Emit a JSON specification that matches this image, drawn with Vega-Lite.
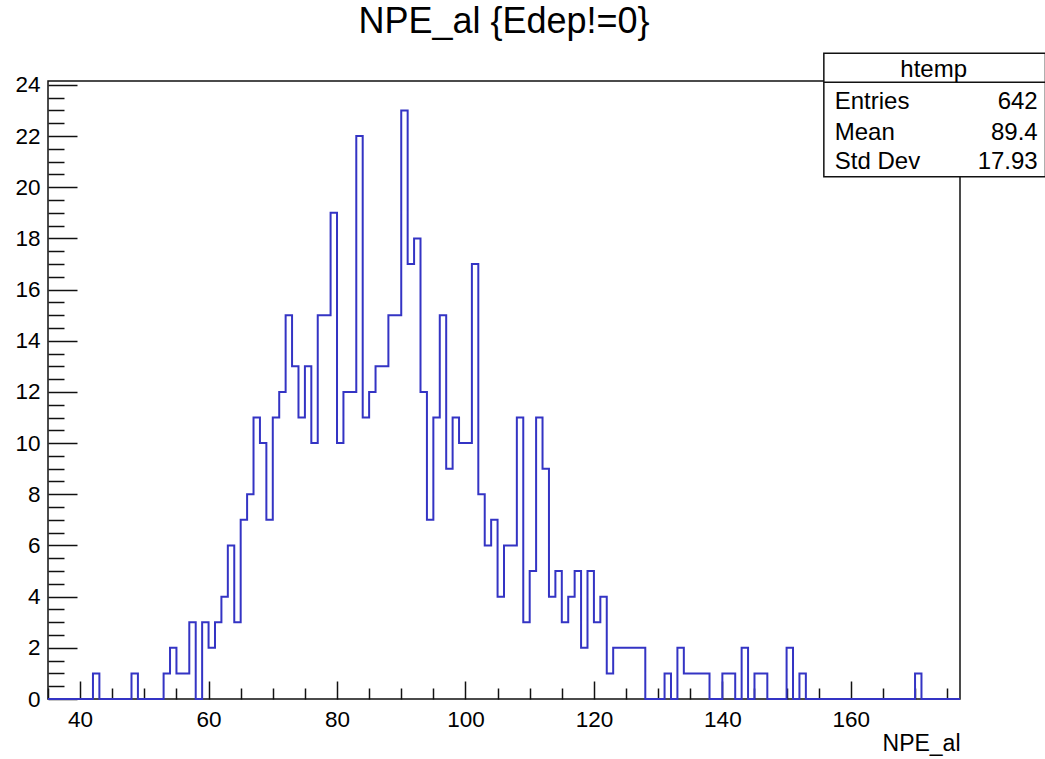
{
  "$schema": "https://vega.github.io/schema/vega-lite/v6.json",
  "width": 912,
  "height": 618,
  "autosize": {"type": "none"},
  "padding": {"left": 48, "top": 81, "right": 85, "bottom": 60},
  "background": "white",
  "title": {"text": "NPE_al {Edep!=0}", "font": "Liberation Sans", "fontSize": 36, "fontWeight": "normal", "color": "black", "anchor": "middle", "baseline": "alphabetic", "offset": -16},
  "config": {
    "view": {"stroke": "#111", "strokeWidth": 1.5},
    "font": "Liberation Sans",
    "axis": {"labelFont": "Liberation Sans", "labelFontSize": 22.5, "labelColor": "black", "tickColor": "#111", "tickWidth": 1.5, "grid": false, "domain": false, "titleFont": "Liberation Sans", "titleFontWeight": "normal", "titleColor": "black", "titleFontSize": 23}
  },
  "datasets": {
    "hist": [
      {"bin": 35, "count": 0}, {"bin": 36, "count": 0}, {"bin": 37, "count": 0}, {"bin": 38, "count": 0}, {"bin": 39, "count": 0},
      {"bin": 40, "count": 0}, {"bin": 41, "count": 0}, {"bin": 42, "count": 1}, {"bin": 43, "count": 0}, {"bin": 44, "count": 0},
      {"bin": 45, "count": 0}, {"bin": 46, "count": 0}, {"bin": 47, "count": 0}, {"bin": 48, "count": 1}, {"bin": 49, "count": 0},
      {"bin": 50, "count": 0}, {"bin": 51, "count": 0}, {"bin": 52, "count": 0}, {"bin": 53, "count": 1}, {"bin": 54, "count": 2},
      {"bin": 55, "count": 1}, {"bin": 56, "count": 1}, {"bin": 57, "count": 3}, {"bin": 58, "count": 0}, {"bin": 59, "count": 3},
      {"bin": 60, "count": 2}, {"bin": 61, "count": 3}, {"bin": 62, "count": 4}, {"bin": 63, "count": 6}, {"bin": 64, "count": 3},
      {"bin": 65, "count": 7}, {"bin": 66, "count": 8}, {"bin": 67, "count": 11}, {"bin": 68, "count": 10}, {"bin": 69, "count": 7},
      {"bin": 70, "count": 11}, {"bin": 71, "count": 12}, {"bin": 72, "count": 15}, {"bin": 73, "count": 13}, {"bin": 74, "count": 11},
      {"bin": 75, "count": 13}, {"bin": 76, "count": 10}, {"bin": 77, "count": 15}, {"bin": 78, "count": 15}, {"bin": 79, "count": 19},
      {"bin": 80, "count": 10}, {"bin": 81, "count": 12}, {"bin": 82, "count": 12}, {"bin": 83, "count": 22}, {"bin": 84, "count": 11},
      {"bin": 85, "count": 12}, {"bin": 86, "count": 13}, {"bin": 87, "count": 13}, {"bin": 88, "count": 15}, {"bin": 89, "count": 15},
      {"bin": 90, "count": 23}, {"bin": 91, "count": 17}, {"bin": 92, "count": 18}, {"bin": 93, "count": 12}, {"bin": 94, "count": 7},
      {"bin": 95, "count": 11}, {"bin": 96, "count": 15}, {"bin": 97, "count": 9}, {"bin": 98, "count": 11}, {"bin": 99, "count": 10},
      {"bin": 100, "count": 10}, {"bin": 101, "count": 17}, {"bin": 102, "count": 8}, {"bin": 103, "count": 6}, {"bin": 104, "count": 7},
      {"bin": 105, "count": 4}, {"bin": 106, "count": 6}, {"bin": 107, "count": 6}, {"bin": 108, "count": 11}, {"bin": 109, "count": 3},
      {"bin": 110, "count": 5}, {"bin": 111, "count": 11}, {"bin": 112, "count": 9}, {"bin": 113, "count": 4}, {"bin": 114, "count": 5},
      {"bin": 115, "count": 3}, {"bin": 116, "count": 4}, {"bin": 117, "count": 5}, {"bin": 118, "count": 2}, {"bin": 119, "count": 5},
      {"bin": 120, "count": 3}, {"bin": 121, "count": 4}, {"bin": 122, "count": 1}, {"bin": 123, "count": 2}, {"bin": 124, "count": 2},
      {"bin": 125, "count": 2}, {"bin": 126, "count": 2}, {"bin": 127, "count": 2}, {"bin": 128, "count": 0}, {"bin": 129, "count": 0},
      {"bin": 130, "count": 0}, {"bin": 131, "count": 1}, {"bin": 132, "count": 0}, {"bin": 133, "count": 2}, {"bin": 134, "count": 1},
      {"bin": 135, "count": 1}, {"bin": 136, "count": 1}, {"bin": 137, "count": 1}, {"bin": 138, "count": 0}, {"bin": 139, "count": 0},
      {"bin": 140, "count": 1}, {"bin": 141, "count": 1}, {"bin": 142, "count": 0}, {"bin": 143, "count": 2}, {"bin": 144, "count": 0},
      {"bin": 145, "count": 1}, {"bin": 146, "count": 1}, {"bin": 147, "count": 0}, {"bin": 148, "count": 0}, {"bin": 149, "count": 0},
      {"bin": 150, "count": 2}, {"bin": 151, "count": 0}, {"bin": 152, "count": 1}, {"bin": 153, "count": 0}, {"bin": 154, "count": 0},
      {"bin": 155, "count": 0}, {"bin": 156, "count": 0}, {"bin": 157, "count": 0}, {"bin": 158, "count": 0}, {"bin": 159, "count": 0},
      {"bin": 160, "count": 0}, {"bin": 161, "count": 0}, {"bin": 162, "count": 0}, {"bin": 163, "count": 0}, {"bin": 164, "count": 0},
      {"bin": 165, "count": 0}, {"bin": 166, "count": 0}, {"bin": 167, "count": 0}, {"bin": 168, "count": 0}, {"bin": 169, "count": 0},
      {"bin": 170, "count": 1}, {"bin": 171, "count": 0}, {"bin": 172, "count": 0}, {"bin": 173, "count": 0}, {"bin": 174, "count": 0},
      {"bin": 175, "count": 0}, {"bin": 176, "count": 0}, {"bin": 177, "count": 0}
    ],
    "stats": [
      {"stat": "Entries", "value": "642"},
      {"stat": "Mean", "value": "89.4"},
      {"stat": "Std Dev", "value": "17.93"}
    ]
  },
  "layer": [
    {
      "data": {"name": "hist"},
      "mark": {"type": "line", "interpolate": "step-after", "color": "#3434c4", "strokeWidth": 2},
      "encoding": {
        "x": {"field": "bin", "type": "quantitative", "scale": {"domain": [35, 177], "nice": false, "zero": false},
          "axis": {"orient": "bottom", "values": [40, 60, 80, 100, 120, 140, 160], "tickSize": -18, "labelPadding": 27, "title": "NPE_al", "titleAnchor": "end", "titlePadding": 2}},
        "y": {"field": "count", "type": "quantitative", "scale": {"domain": [0, 24.15], "nice": false},
          "axis": {"orient": "left", "values": [0, 2, 4, 6, 8, 10, 12, 14, 16, 18, 20, 22, 24], "tickSize": -29, "labelPadding": 37, "title": null}}
      }
    },
    {
      "data": {"name": "hist"},
      "mark": {"type": "point", "opacity": 0},
      "encoding": {
        "x": {"field": "bin", "type": "quantitative", "scale": {"domain": [35, 177], "nice": false, "zero": false},
          "axis": {"orient": "bottom", "values": [35, 45, 50, 55, 65, 70, 75, 85, 90, 95, 105, 110, 115, 125, 130, 135, 145, 150, 155, 165, 170, 175], "tickSize": -11, "labels": false, "title": null}},
        "y": {"field": "count", "type": "quantitative", "scale": {"domain": [0, 24.15], "nice": false},
          "axis": {"orient": "left", "values": [0.5, 1, 1.5, 2.5, 3, 3.5, 4.5, 5, 5.5, 6.5, 7, 7.5, 8.5, 9, 9.5, 10.5, 11, 11.5, 12.5, 13, 13.5, 14.5, 15, 15.5, 16.5, 17, 17.5, 18.5, 19, 19.5, 20.5, 21, 21.5, 22.5, 23, 23.5], "tickSize": -16, "labels": false, "title": null}}
      }
    },
    {
      "data": {"values": [{}]},
      "mark": {"type": "rect", "fill": "white", "stroke": "#111", "strokeWidth": 1.5},
      "encoding": {
        "x": {"datum": 155.8, "type": "quantitative", "axis": null},
        "x2": {"datum": 190.3},
        "y": {"datum": 25.23, "type": "quantitative", "axis": null},
        "y2": {"datum": 20.41}
      }
    },
    {
      "data": {"values": [{}]},
      "mark": {"type": "rule", "stroke": "#111", "strokeWidth": 1.5},
      "encoding": {
        "x": {"datum": 155.8, "type": "quantitative", "axis": null},
        "x2": {"datum": 190.3},
        "y": {"datum": 24.1, "type": "quantitative", "axis": null}
      }
    },
    {
      "data": {"values": [{"name": "htemp"}]},
      "mark": {"type": "text", "align": "center", "baseline": "alphabetic", "fontSize": 24, "font": "Liberation Sans", "color": "black"},
      "encoding": {
        "text": {"field": "name"},
        "x": {"datum": 172.9, "type": "quantitative", "axis": null},
        "y": {"datum": 24.3, "type": "quantitative", "axis": null}
      }
    },
    {
      "data": {"name": "stats"},
      "transform": [{"filter": "datum.stat === 'Entries'"}],
      "layer": [
        {"mark": {"type": "text", "align": "left", "baseline": "alphabetic", "fontSize": 24, "font": "Liberation Sans", "color": "black"},
         "encoding": {"text": {"field": "stat"}, "x": {"datum": 157.5, "type": "quantitative", "axis": null}, "y": {"datum": 23.06, "type": "quantitative", "axis": null}}},
        {"mark": {"type": "text", "align": "right", "baseline": "alphabetic", "fontSize": 24, "font": "Liberation Sans", "color": "black"},
         "encoding": {"text": {"field": "value"}, "x": {"datum": 189.1, "type": "quantitative", "axis": null}, "y": {"datum": 23.06, "type": "quantitative", "axis": null}}}
      ]
    },
    {
      "data": {"name": "stats"},
      "transform": [{"filter": "datum.stat === 'Mean'"}],
      "layer": [
        {"mark": {"type": "text", "align": "left", "baseline": "alphabetic", "fontSize": 24, "font": "Liberation Sans", "color": "black"},
         "encoding": {"text": {"field": "stat"}, "x": {"datum": 157.5, "type": "quantitative", "axis": null}, "y": {"datum": 21.86, "type": "quantitative", "axis": null}}},
        {"mark": {"type": "text", "align": "right", "baseline": "alphabetic", "fontSize": 24, "font": "Liberation Sans", "color": "black"},
         "encoding": {"text": {"field": "value"}, "x": {"datum": 189.1, "type": "quantitative", "axis": null}, "y": {"datum": 21.86, "type": "quantitative", "axis": null}}}
      ]
    },
    {
      "data": {"name": "stats"},
      "transform": [{"filter": "datum.stat === 'Std Dev'"}],
      "layer": [
        {"mark": {"type": "text", "align": "left", "baseline": "alphabetic", "fontSize": 24, "font": "Liberation Sans", "color": "black"},
         "encoding": {"text": {"field": "stat"}, "x": {"datum": 157.5, "type": "quantitative", "axis": null}, "y": {"datum": 20.7, "type": "quantitative", "axis": null}}},
        {"mark": {"type": "text", "align": "right", "baseline": "alphabetic", "fontSize": 24, "font": "Liberation Sans", "color": "black"},
         "encoding": {"text": {"field": "value"}, "x": {"datum": 189.1, "type": "quantitative", "axis": null}, "y": {"datum": 20.7, "type": "quantitative", "axis": null}}}
      ]
    }
  ],
  "resolve": {"axis": {"x": "independent", "y": "independent"}}
}
